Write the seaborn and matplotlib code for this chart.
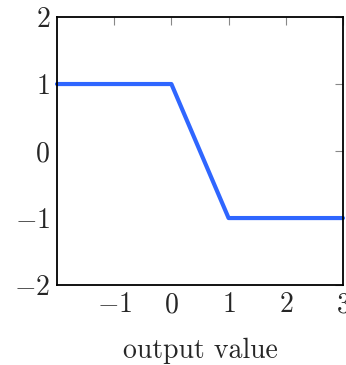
import matplotlib
matplotlib.use("Agg")
import matplotlib.pyplot as plt
import seaborn as sns
import pandas as pd

# piecewise output curve
x_vals = [-2, 0, 1, 3]
y_vals = [1, 1, -1, -1]
x_ticks = [-1, 0, 1, 2, 3]
y_ticks = [-2, -1, 0, 1, 2]

sns.set_style("white")
plt.rcParams["font.family"] = "cmr10"
plt.rcParams["mathtext.fontset"] = "cm"
plt.rcParams["axes.formatter.use_mathtext"] = True

df = pd.DataFrame({"x": x_vals, "y": y_vals})

fig = plt.figure(figsize=(3.46, 3.65), dpi=100)
ax = fig.add_axes([0.1647, 0.219, 0.8266, 0.7344])
sns.lineplot(data=df, x="x", y="y", ax=ax, color="#2f66ff", linewidth=3.0,
             clip_on=False)

ax.set_xlim(-2, 3)
ax.set_ylim(-2, 2)
ax.set_xticks(x_ticks)
ax.set_yticks(y_ticks)
ax.tick_params(direction="in", length=6, width=0.8, color="#888888",
               top=True, right=True, labelsize=20, pad=5)
for s in ax.spines.values():
    s.set_linewidth(1.3)
    s.set_color("black")
ax.set_xlabel("output value", fontsize=20, labelpad=14)
ax.set_ylabel("")

fig.savefig("out.png", dpi=100)
